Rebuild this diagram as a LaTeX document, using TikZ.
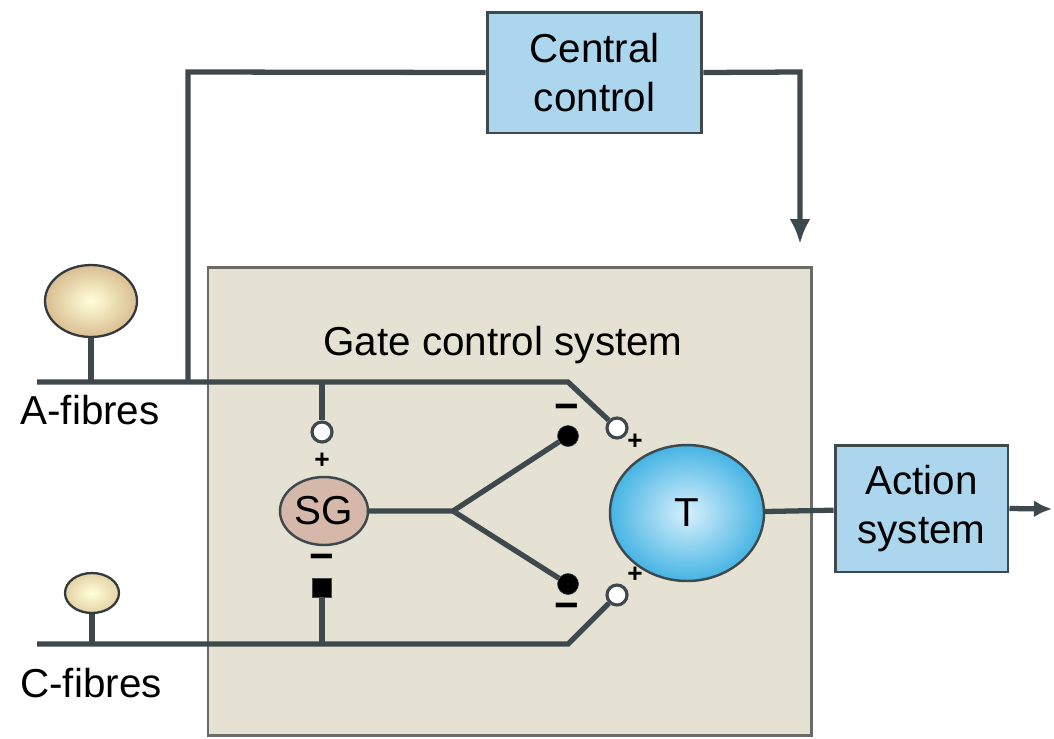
\documentclass[tikz,border=0pt]{standalone}
\usepackage{fontspec}
\setmainfont{Liberation Sans}
\usetikzlibrary{arrows.meta,shapes.geometric}

\definecolor{wire}{HTML}{3E494E}
\definecolor{boxblue}{HTML}{ABD6EE}
\definecolor{gatefill}{HTML}{E6E2D3}
\definecolor{gateline}{HTML}{6A6A66}

\tikzset{
  ctrlbox/.style={draw=wire, line width=1.7pt, fill=boxblue, align=center,
    font=\fontsize{23}{28}\selectfont},
  fibre/.style={draw=wire, line width=3pt},
  opensyn/.style={circle, draw=wire, line width=1.8pt, fill=white, inner sep=0pt, minimum size=0.4cm},
  fillsyn/.style={circle, draw=wire, fill=black, inner sep=0pt, minimum size=0.42cm},
  plussign/.style={font=\bfseries\fontsize{15}{15}\selectfont, inner sep=0pt},
  minussign/.style={font=\bfseries\fontsize{24}{24}\selectfont, inner sep=0pt},
  cell/.style={ellipse, draw=wire!80!black, line width=1.3pt, inner sep=0pt}
}

\begin{document}
\begin{tikzpicture}[x=0.02cm,y=-0.02cm,>=Latex]
\useasboundingbox (0,0) rectangle (1054,738);

% gate box
\draw[gateline, line width=1.7pt, fill=gatefill] (208,267) rectangle (811,735);
\node[font=\fontsize{23}{28}\selectfont] (title) at (503,345) {Gate control system};

% boxes and cells
\node[ctrlbox, minimum width=4.3cm, minimum height=2.42cm] (cc) at (594.5,72.5) {Central\\control};
\node[ctrlbox, minimum width=3.46cm, minimum height=2.54cm] (act) at (921.5,508.5) {Action\\system};

\node[cell, minimum width=1.84cm, minimum height=1.44cm, inner color=white!85!yellow, outer color={rgb,255:red,218;green,190;blue,145}] (acell) at (91,301) {};
\node[cell, minimum width=1.08cm, minimum height=0.8cm, inner color=white!85!yellow, outer color={rgb,255:red,228;green,210;blue,165}] (ccell) at (92,593) {};

\node[ellipse, draw=wire, line width=1.4pt, fill={rgb,255:red,214;green,184;blue,170}, minimum width=1.76cm, minimum height=1.36cm, inner sep=0pt, font=\fontsize{23}{28}\selectfont] (sg) at (324,511) {SG};
\node[ellipse, draw=wire, line width=1.4pt, inner color={rgb,255:red,215;green,240;blue,252}, outer color={rgb,255:red,70;green,180;blue,228}, minimum width=3.08cm, minimum height=2.72cm, inner sep=0pt, font=\fontsize{23}{28}\selectfont] (t) at (687,513) {T};

\node[font=\fontsize{23}{28}\selectfont] (alabel) at (90,410) {A-fibres};
\node[font=\fontsize{23}{28}\selectfont] (clabel) at (91,683) {C-fibres};

% synapses
\node[opensyn] (oa) at (617,428) {};
\node[opensyn] (oc) at (617,595) {};
\node[opensyn] (osg) at (322,432) {};
\node[fillsyn] (ft1) at (568,436) {};
\node[fillsyn] (ft2) at (568,584) {};
\node[draw=wire, fill=black, inner sep=0pt, minimum size=0.38cm] (fsg) at (322,588) {};

\node[plussign] (pa) at (635,442) {+};
\node[plussign] (pc) at (635,575) {+};
\node[plussign] (psg) at (322,461) {+};
\node[minussign] (m1) at (567,412) {−};
\node[minussign] (m2) at (567,611) {−};
\node[minussign] (msg) at (322,562) {−};

% fibres
\coordinate (aleft) at (37,382);
\coordinate (abend) at (568,382);
\coordinate (abranch) at (188,382);
\coordinate (astem) at (91,382);
\coordinate (asg) at (322,382);
\coordinate (cleft) at (37,644);
\coordinate (cbend) at (568,644);
\coordinate (cstem) at (92,644);
\coordinate (csg) at (322,644);
\coordinate (fork) at (453,511);
\coordinate (ccturn) at (800,72);
\coordinate (ccend) at (800,244);
\coordinate (actend) at (1052,509);

\draw[fibre] (aleft) -- (abend) -- (oa);
\draw[fibre] (acell) -- (astem);
\draw[fibre] (asg) -- (osg);
\draw[fibre] (cleft) -- (cbend) -- (oc);
\draw[fibre] (ccell) -- (cstem);
\draw[fibre] (fsg) -- (csg);
\draw[fibre] (sg) -- (fork) -- (ft1);
\draw[fibre] (fork) -- (ft2);

% central control loop
\draw[fibre] (abranch) -- (188,72) -- (cc.west);
\draw[fibre, -{Latex[length=0.5cm,width=0.42cm]}] (cc.east) -- (ccturn) -- (ccend);

% output
\draw[fibre] (t) -- (act);
\draw[fibre, -{Latex[length=0.36cm,width=0.34cm]}] (act.east) -- (actend);
\end{tikzpicture}
\end{document}
